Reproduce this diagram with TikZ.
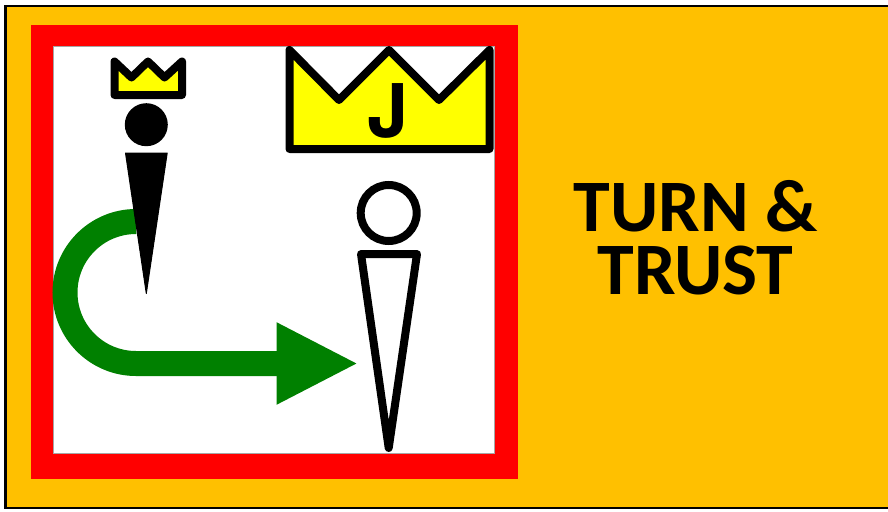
\documentclass[tikz,border=0pt]{standalone}
\usepackage{fontspec}
\setmainfont{Carlito}
\newfontfamily\crownfont{TeX Gyre Heros}
\usetikzlibrary{arrows.meta}
\definecolor{panelorange}{RGB}{255,192,0}
\definecolor{framered}{RGB}{255,0,0}
\definecolor{turngreen}{RGB}{0,128,0}
\definecolor{crownyellow}{RGB}{255,255,0}
\begin{document}
\begin{tikzpicture}[
    x=1pt, y=-1pt,
    crown/.style={draw=black, fill=crownyellow, line width=8pt, line join=round},
    head/.style={circle, draw=black, line width=8pt, minimum size=56pt, inner sep=0pt},
    body/.style={draw=black, line width=8pt, line join=round},
    turnarr/.style={-{Triangle[length=82pt,width=76pt]}, turngreen, line width=25pt}
]
    \useasboundingbox (0,0) rectangle (888,511);
    \fill[panelorange] (5.5,6) rectangle (888,508);
    \draw[black, line width=2.5pt] (888,6) -- (5.5,6) -- (5.5,508) -- (888,508);
    \fill[framered] (31,25) rectangle (518,479);
    \filldraw[fill=white, draw=black!35, line width=0.6pt] (53,46) rectangle (494,453);
    \coordinate (turnstart) at (136,221.5);
    \coordinate (turnend) at (358.5,363.5);
    \draw[turnarr] (turnstart) arc[start angle=270, end angle=90, radius=71] -- (turnend);
    \draw[crown] (114.5,95) -- (114.5,61.5) -- (131.5,77.5) -- (148,61.5) -- (164.5,77.5) -- (182,61.5) -- (182,95) -- cycle;
    \node[circle, fill=black, minimum size=43pt, inner sep=0pt] (kinghead) at (146.3,124.7) {};
    \fill[black, draw=black, line width=1pt, line join=round] (125.5,153) -- (167.2,153) -- (146.3,293.5) -- cycle;
    \draw[crown] (289.5,149) -- (289.5,50) -- (339,100) -- (389,50) -- (439,100) -- (489.5,50) -- (489.5,149) -- cycle;
    \node[font=\crownfont\bfseries\fontsize{74}{74}\selectfont, inner sep=0pt, anchor=base] (crownlabel) at (388,137.7) {J};
    \node[head, fill=white] (jesushead) at (388.7,213) {};
    \draw[body, fill=white] (361,254) -- (417,254) -- (388.7,448) -- cycle;
    \node[font=\bfseries\fontsize{74}{62.6}\selectfont, align=center, inner sep=0pt] (title) at (695.5,238) {TURN \&\\TRUST};
\end{tikzpicture}
\end{document}
